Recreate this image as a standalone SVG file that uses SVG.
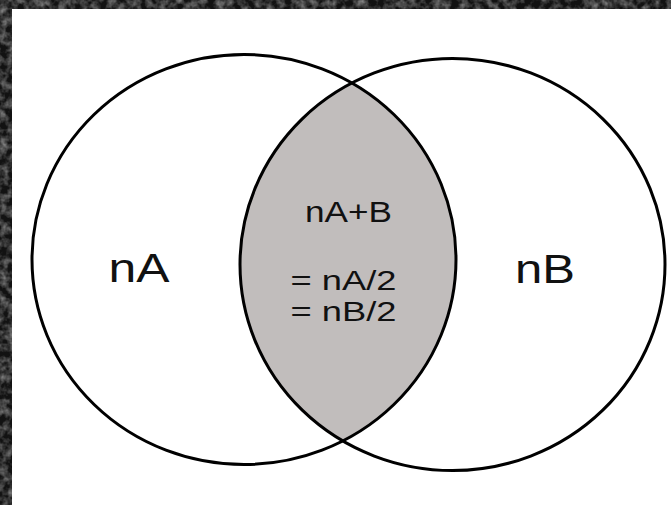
<svg xmlns="http://www.w3.org/2000/svg" width="671" height="505" viewBox="0 0 671 505">
<defs>
<filter id="noise" x="0" y="0" width="100%" height="100%">
<feTurbulence type="fractalNoise" baseFrequency="0.12" numOctaves="3" seed="3"/>
<feColorMatrix type="matrix" values="0 0 0 0 0.4  0 0 0 0 0.4  0 0 0 0 0.4  0 0 0 1.4 -0.5"/>
</filter>
<clipPath id="clipA"><ellipse cx="244" cy="259.5" rx="212" ry="205"/></clipPath>
<style>
.ring{fill:none;stroke:#000;stroke-width:3}
.lbl{font-family:"Liberation Sans",Arial,Helvetica,sans-serif;fill:#111;text-anchor:middle}
.big{font-size:41px}
.mid{font-size:29px}
.eq{font-size:27px}
</style>
</defs>
<rect x="0" y="0" width="671" height="505" fill="#121212"/>
<rect x="0" y="0" width="671" height="505" filter="url(#noise)"/>
<rect x="12" y="9" width="659" height="496" fill="#ffffff"/>
<g id="intersection">
<ellipse cx="452.5" cy="264.5" rx="212.5" ry="206" fill="#c1bdbc" clip-path="url(#clipA)"/>
</g>
<g id="setA">
<ellipse class="ring" cx="244" cy="259.5" rx="212" ry="205"/>
<text class="lbl big" x="139" y="282" textLength="61" lengthAdjust="spacingAndGlyphs">nA</text>
</g>
<g id="setB">
<ellipse class="ring" cx="452.5" cy="264.5" rx="212.5" ry="206"/>
<text class="lbl big" x="545" y="283" textLength="60" lengthAdjust="spacingAndGlyphs">nB</text>
</g>
<g id="overlap-label">
<text class="lbl mid" x="348.5" y="222" textLength="87" lengthAdjust="spacingAndGlyphs">nA+B</text>
<text class="lbl eq" x="343.5" y="290" textLength="106" lengthAdjust="spacingAndGlyphs">= nA/2</text>
<text class="lbl eq" x="343.5" y="321" textLength="106" lengthAdjust="spacingAndGlyphs">= nB/2</text>
</g>
</svg>
